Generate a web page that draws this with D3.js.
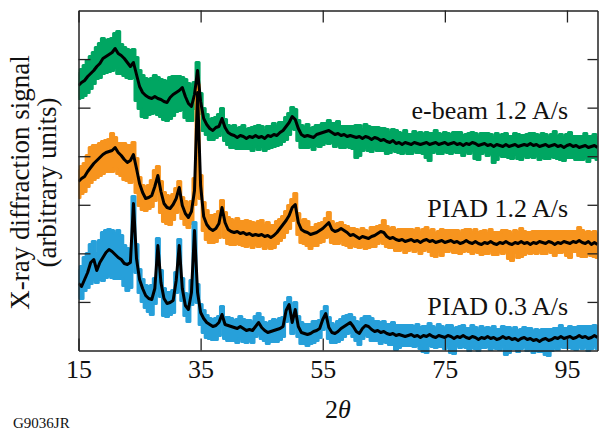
<!DOCTYPE html>
<html>
<head>
<meta charset="utf-8">
<script src="https://cdn.jsdelivr.net/npm/d3@7"></script>
<style>
  body { margin: 0; background: #fff; }
  svg { display: block; }
  text { font-family: "Liberation Serif", "Times New Roman", serif; fill: #111; }
</style>
</head>
<body>
<svg id="chart" width="600" height="431"></svg>
<script>
// Scan angle grid (degrees 2θ)
const twoTheta = [
  15, 15.5, 16, 16.5, 17, 17.5, 18, 18.5, 19, 19.5,
  20, 20.5, 21, 21.5, 22, 22.5, 23, 23.5, 24, 24.5,
  25, 25.5, 26, 26.5, 27, 27.5, 28, 28.5, 29, 29.5,
  30, 30.5, 31, 31.5, 32, 32.5, 33, 33.5, 34, 34.5,
  35, 35.5, 36, 36.5, 37, 37.5, 38, 38.5, 39, 39.5,
  40, 40.5, 41, 41.5, 42, 42.5, 43, 43.5, 44, 44.5,
  45, 45.5, 46, 46.5, 47, 47.5, 48, 48.5, 49, 49.5,
  50, 50.5, 51, 51.5, 52, 52.5, 53, 53.5, 54, 54.5,
  55, 55.5, 56, 56.5, 57, 57.5, 58, 58.5, 59, 59.5,
  60, 60.5, 61, 61.5, 62, 62.5, 63, 63.5, 64, 64.5,
  65, 65.5, 66, 66.5, 67, 67.5, 68, 68.5, 69, 69.5,
  70, 70.5, 71, 71.5, 72, 72.5, 73, 73.5, 74, 74.5,
  75, 75.5, 76, 76.5, 77, 77.5, 78, 78.5, 79, 79.5,
  80, 80.5, 81, 81.5, 82, 82.5, 83, 83.5, 84, 84.5,
  85, 85.5, 86, 86.5, 87, 87.5, 88, 88.5, 89, 89.5,
  90, 90.5, 91, 91.5, 92, 92.5, 93, 93.5, 94, 94.5,
  95, 95.5, 96, 96.5, 97, 97.5, 98, 98.5, 99, 99.5,
  100
];

// e-beam 1.2 A/s: smoothed signal and spread of the raw counts about it (arbitrary units, offset trace)
const ebeamSignal = [
  265, 268, 270, 274, 277, 280, 284, 287, 292, 294,
  296, 298, 302, 297, 295, 292, 288, 284, 288, 276,
  264, 258, 255, 253, 252, 254, 252, 251, 249, 248,
  253, 256, 258, 260, 263, 254, 247, 244, 256, 280,
  249, 232, 226, 222, 220, 223, 224, 232, 223, 218,
  216, 215, 213, 215, 214, 212, 214, 213, 215, 213,
  214, 212, 215, 214, 216, 215, 218, 220, 224, 228,
  234, 231, 222, 216, 214, 215, 214, 213, 216, 217,
  218, 219, 220, 218, 216, 217, 215, 216, 214, 215,
  214, 213, 214, 212, 214, 213, 211, 213, 212, 210,
  211, 209, 208, 210, 207, 208, 206, 208, 207, 206,
  208, 207, 206, 207, 208, 206, 207, 208, 206, 207,
  208, 206, 207, 208, 206, 207, 205, 207, 206, 208,
  207, 205, 206, 207, 205, 206, 204, 206, 205, 204,
  206, 204, 205, 206, 204, 205, 206, 205, 207, 205,
  206, 204, 205, 206, 204, 205, 206, 204, 205, 203,
  205, 206, 204, 205, 203, 204, 205, 203, 204, 205,
  203
];
const ebeamSpreadUp = [
  12, 13, 15, 16, 17, 18, 19, 20, 20, 16,
  15, 14, 15, 22, 11, 11, 13, 16, 13, 17,
  16, 17, 17, 18, 20, 21, 21, 20, 21, 21,
  20, 18, 16, 14, 10, 17, 20, 18, 12, 8,
  8, 10, 10, 9, 12, 10, 12, 10, 8, 7,
  8, 10, 9, 8, 11, 9, 8, 10, 9, 12,
  10, 8, 9, 10, 11, 9, 10, 8, 9, 9,
  9, 10, 8, 9, 9, 11, 8, 10, 9, 8,
  9, 8, 10, 9, 11, 12, 9, 8, 10, 9,
  10, 12, 11, 9, 12, 11, 12, 10, 11, 12,
  11, 12, 10, 11, 13, 10, 11, 12, 9, 10,
  11, 10, 12, 9, 10, 11, 10, 12, 11, 9,
  10, 11, 9, 10, 12, 11, 10, 9, 11, 10,
  10, 9, 11, 10, 12, 10, 9, 11, 10, 12,
  11, 10, 9, 11, 12, 10, 9, 11, 10, 12,
  10, 11, 12, 10, 9, 11, 13, 10, 11, 10,
  11, 12, 10, 9, 11, 10, 12, 11, 10, 11,
  10
];
const ebeamSpreadDown = [
  13, 15, 15, 16, 15, 13, 12, 14, 15, 16,
  17, 18, 19, 20, 18, 17, 15, 12, 15, 26,
  22, 24, 22, 17, 15, 16, 16, 17, 18, 18,
  21, 21, 19, 20, 22, 21, 17, 14, 14, 10,
  12, 12, 10, 11, 9, 10, 9, 12, 13, 12,
  13, 12, 11, 13, 12, 10, 12, 13, 11, 12,
  10, 12, 13, 11, 12, 10, 12, 11, 13, 12,
  12, 10, 12, 13, 11, 12, 10, 12, 11, 13,
  12, 11, 13, 10, 12, 11, 12, 13, 10, 12,
  12, 20, 19, 12, 11, 13, 12, 11, 12, 10,
  11, 12, 10, 9, 8, 10, 9, 8, 10, 9,
  8, 9, 8, 10, 15, 16, 9, 8, 9, 10,
  9, 8, 10, 9, 8, 9, 10, 8, 9, 8,
  15, 14, 9, 8, 10, 9, 16, 15, 9, 10,
  12, 11, 13, 10, 12, 14, 11, 12, 13, 12,
  11, 13, 12, 14, 12, 11, 13, 12, 14, 13,
  12, 13, 11, 14, 12, 13, 12, 14, 11, 12,
  12
];

// PIAD 1.2 A/s
const piadFastSignal = [
  169, 172, 174, 179, 183, 187, 190, 193, 196, 198,
  199, 200, 203, 198, 195, 191, 188, 190, 196, 182,
  167, 158, 152, 153, 155, 164, 175, 159, 147, 143,
  142, 146, 152, 163, 145, 137, 133, 139, 160, 258,
  165, 134, 126, 122, 120, 122, 127, 143, 128, 121,
  119, 118, 119, 117, 118, 116, 117, 115, 116, 115,
  116, 114, 115, 113, 115, 118, 122, 126, 130, 135,
  143, 146, 128, 121, 119, 118, 116, 117, 118, 120,
  122, 125, 128, 121, 119, 120, 122, 120, 118, 115,
  116, 114, 112, 114, 113, 112, 114, 115, 117, 119,
  118, 114, 112, 113, 111, 110, 111, 109, 110, 111,
  109, 110, 108, 110, 111, 109, 110, 108, 109, 110,
  108, 109, 110, 108, 109, 107, 108, 110, 108, 107,
  109, 107, 106, 108, 107, 109, 107, 106, 108, 107,
  109, 107, 106, 108, 107, 109, 107, 108, 106, 108,
  107, 109, 108, 107, 109, 108, 106, 108, 107, 109,
  108, 107, 109, 108, 110, 108, 107, 109, 106, 108,
  106
];
const piadFastSpreadUp = [
  11, 12, 13, 16, 20, 18, 15, 14, 13, 12,
  12, 17, 10, 9, 12, 16, 17, 15, 12, 10,
  6, 7, 8, 12, 15, 16, 9, 10, 11, 12,
  12, 10, 10, 6, 8, 12, 10, 10, 12, 8,
  10, 14, 14, 13, 15, 14, 12, 7, 10, 12,
  12, 11, 13, 12, 11, 14, 12, 13, 11, 14,
  14, 11, 13, 12, 10, 11, 9, 8, 9, 10,
  8, 11, 9, 8, 12, 11, 7, 6, 8, 7,
  6, 7, 10, 8, 6, 7, 6, 5, 6, 7,
  6, 7, 6, 8, 7, 6, 9, 8, 7, 6,
  12, 10, 9, 10, 9, 11, 10, 12, 11, 10,
  11, 12, 10, 11, 12, 10, 11, 9, 10, 11,
  12, 11, 10, 12, 11, 10, 12, 11, 13, 11,
  12, 11, 13, 12, 10, 12, 11, 12, 10, 13,
  11, 12, 10, 12, 11, 13, 12, 10, 12, 11,
  12, 10, 11, 12, 10, 11, 13, 11, 12, 10,
  11, 12, 10, 11, 13, 12, 11, 10, 12, 11,
  11
];
const piadFastSpreadDown = [
  16, 15, 15, 15, 15, 16, 17, 18, 19, 19,
  20, 21, 21, 21, 20, 20, 18, 22, 24, 24,
  22, 17, 12, 11, 11, 14, 18, 21, 18, 16,
  16, 15, 14, 16, 13, 11, 10, 12, 14, 10,
  13, 14, 15, 14, 12, 13, 14, 13, 15, 14,
  13, 12, 12, 11, 13, 12, 11, 12, 10, 11,
  11, 12, 10, 11, 12, 11, 12, 13, 12, 13,
  13, 14, 12, 13, 12, 13, 14, 12, 13, 12,
  13, 12, 14, 13, 12, 13, 12, 14, 13, 12,
  11, 10, 9, 10, 11, 9, 10, 11, 10, 9,
  11, 10, 9, 10, 11, 10, 9, 11, 10, 9,
  10, 9, 11, 10, 9, 10, 15, 14, 10, 15,
  9, 10, 9, 10, 11, 10, 9, 10, 9, 10,
  10, 9, 10, 11, 10, 9, 11, 10, 9, 10,
  10, 15, 16, 10, 14, 15, 11, 10, 9, 10,
  10, 9, 11, 10, 9, 10, 11, 10, 9, 10,
  13, 14, 10, 9, 15, 14, 13, 10, 11, 14,
  13
];

// PIAD 0.3 A/s
const piadSlowSignal = [
  67, 64, 71, 78, 88, 91, 80, 88, 93, 98,
  101, 99, 96, 93, 91, 87, 86, 88, 147, 92,
  71, 62, 55, 52, 51, 62, 105, 68, 52, 47,
  48, 50, 70, 105, 62, 45, 41, 58, 120, 58,
  38, 32, 28, 26, 24, 25, 28, 36, 26, 25,
  24, 23, 22, 24, 22, 20, 21, 20, 24, 28,
  23, 20, 18, 19, 20, 21, 22, 24, 40, 46,
  28, 41, 24, 18, 17, 16, 17, 19, 20, 22,
  31, 37, 23, 18, 17, 19, 22, 24, 26, 28,
  24, 19, 17, 22, 25, 24, 21, 19, 20, 18,
  19, 17, 16, 17, 15, 16, 15, 14, 15, 16,
  14, 15, 13, 15, 14, 16, 14, 13, 15, 14,
  13, 15, 14, 12, 14, 13, 15, 13, 12, 14,
  13, 11, 13, 12, 14, 12, 13, 11, 12, 14,
  12, 13, 11, 12, 10, 12, 13, 11, 12, 10,
  11, 9, 11, 12, 10, 11, 13, 12, 14, 12,
  13, 14, 12, 13, 15, 13, 14, 12, 13, 15,
  13
];
const piadSlowSpreadUp = [
  13, 20, 22, 19, 18, 18, 17, 22, 25, 22,
  20, 21, 21, 27, 24, 18, 16, 12, 7, 14,
  10, 9, 10, 12, 14, 10, 7, 12, 10, 11,
  10, 10, 8, 6, 10, 12, 9, 12, 8, 8,
  8, 8, 7, 6, 7, 7, 6, 8, 7, 8,
  8, 7, 9, 10, 9, 10, 9, 8, 10, 9,
  10, 8, 9, 10, 11, 9, 10, 9, 8, 7,
  9, 7, 10, 10, 9, 10, 9, 10, 9, 8,
  8, 7, 10, 9, 8, 10, 9, 10, 9, 8,
  9, 10, 11, 10, 9, 10, 11, 10, 9, 10,
  10, 9, 10, 11, 10, 9, 10, 11, 10, 9,
  10, 11, 10, 9, 10, 11, 10, 9, 11, 10,
  9, 10, 11, 10, 9, 11, 10, 9, 10, 11,
  10, 9, 11, 10, 9, 10, 11, 10, 9, 10,
  11, 10, 9, 11, 10, 9, 10, 11, 10, 9,
  10, 11, 10, 9, 11, 10, 9, 10, 11, 10,
  9, 10, 11, 10, 9, 11, 10, 12, 11, 10,
  11
];
const piadSlowSpreadDown = [
  14, 12, 11, 15, 21, 20, 12, 17, 23, 25,
  26, 26, 24, 21, 19, 22, 26, 25, 10, 14,
  13, 13, 12, 13, 15, 15, 10, 14, 17, 13,
  12, 12, 12, 14, 12, 10, 12, 12, 14, 10,
  12, 14, 15, 14, 13, 14, 13, 12, 14, 15,
  14, 13, 14, 12, 13, 12, 11, 12, 10, 11,
  11, 10, 11, 10, 11, 12, 11, 10, 11, 9,
  11, 9, 10, 11, 10, 11, 10, 11, 10, 9,
  10, 9, 11, 10, 9, 10, 11, 10, 9, 10,
  10, 9, 11, 10, 9, 10, 11, 9, 10, 11,
  10, 9, 10, 11, 14, 13, 10, 9, 10, 11,
  10, 10, 11, 16, 16, 11, 10, 10, 11, 10,
  11, 10, 16, 15, 9, 10, 11, 10, 12, 11,
  11, 11, 10, 9, 10, 11, 10, 9, 11, 10,
  16, 15, 9, 10, 11, 10, 9, 11, 10, 12,
  11, 10, 12, 16, 15, 11, 10, 11, 10, 9,
  10, 11, 10, 12, 11, 11, 10, 12, 11, 10,
  11
];

const seriesLabels = ["e-beam 1.2 A/s", "PIAD 1.2 A/s", "PIAD 0.3 A/s"];
const xTickValues = [15, 35, 55, 75, 95];

// ---- layout ----
const svg = d3.select("#chart");
const plot = { left: 78.5, right: 597.5, top: 10.5, bottom: 350.5 };

const x = d3.scaleLinear().domain([15, 100]).range([plot.left, plot.right]);
const y = d3.scaleLinear().domain([0, 340]).range([plot.bottom, plot.top]);
const yTickValues = d3.range(1, 7).map(k => k * 340 / 7);

const series = [
  { label: seriesLabels[0], color: "#00a662", signal: ebeamSignal, up: ebeamSpreadUp, down: ebeamSpreadDown, labelAt: 232 },
  { label: seriesLabels[1], color: "#f7941e", signal: piadFastSignal, up: piadFastSpreadUp, down: piadFastSpreadDown, labelAt: 134 },
  { label: seriesLabels[2], color: "#27a0da", signal: piadSlowSignal, up: piadSlowSpreadUp, down: piadSlowSpreadDown, labelAt: 35.5 }
];

svg.append("defs").append("clipPath").attr("id", "plotClip")
  .append("rect")
  .attr("x", plot.left).attr("y", 0)
  .attr("width", plot.right - plot.left).attr("height", 431);

const dataLayer = svg.append("g").attr("clip-path", "url(#plotClip)");

// raw-count bands (coloured), drawn first
series.forEach(s => {
  const band = d3.area()
    .curve(d3.curveStep)
    .x((d, i) => x(twoTheta[i]))
    .y0((d, i) => y(s.signal[i] - s.down[i]))
    .y1((d, i) => y(s.signal[i] + s.up[i]));
  dataLayer.append("path")
    .datum(s.signal)
    .attr("d", band)
    .attr("fill", s.color)
    .attr("stroke", s.color)
    .attr("stroke-width", 3)
    .attr("stroke-linejoin", "round");
});

// smoothed traces (black)
series.forEach(s => {
  const line = d3.line()
    .x((d, i) => x(twoTheta[i]))
    .y(d => y(d));
  dataLayer.append("path")
    .datum(s.signal)
    .attr("d", line)
    .attr("fill", "none")
    .attr("stroke", "#000")
    .attr("stroke-width", 3)
    .attr("stroke-linejoin", "round");
});

// ---- axes (ticks point inward on all four sides) ----
function styleAxis(g) {
  g.selectAll(".domain").attr("stroke", "#222").attr("stroke-width", 1.5);
  g.selectAll(".tick line").attr("stroke", "#222").attr("stroke-width", 1.3);
  g.attr("font-family", null).attr("font-size", null);
}

svg.append("g")
  .attr("transform", `translate(0,${plot.bottom})`)
  .call(d3.axisBottom(x).tickValues(xTickValues).tickSizeInner(-12).tickSizeOuter(0).tickPadding(9).tickFormat(d3.format("d")))
  .call(styleAxis)
  .call(g => g.selectAll(".tick text").attr("fill", "#111").style("font-size", "26px"));

svg.append("g")
  .attr("transform", `translate(0,${plot.top})`)
  .call(d3.axisTop(x).tickValues(xTickValues).tickSizeInner(-12).tickSizeOuter(0).tickFormat(""))
  .call(styleAxis);

svg.append("g")
  .attr("transform", `translate(${plot.left},0)`)
  .call(d3.axisLeft(y).tickValues(yTickValues).tickSizeInner(-12).tickSizeOuter(0).tickFormat(""))
  .call(styleAxis);

svg.append("g")
  .attr("transform", `translate(${plot.right},0)`)
  .call(d3.axisRight(y).tickValues(yTickValues).tickSizeInner(-10).tickSizeOuter(0).tickFormat(""))
  .call(styleAxis);

// ---- series labels ----
series.forEach(s => {
  svg.append("text")
    .attr("x", x(95.2))
    .attr("y", y(s.labelAt))
    .attr("text-anchor", "end")
    .style("font-size", "26px")
    .text(s.label);
});

// ---- axis titles ----
const xTitle = svg.append("text")
  .attr("x", (plot.left + plot.right) / 2)
  .attr("y", 418)
  .attr("text-anchor", "middle")
  .style("font-size", "26px");
xTitle.append("tspan").text("2");
xTitle.append("tspan").style("font-style", "italic").text("θ");

const yTitle = svg.append("g")
  .attr("transform", `translate(0,${(plot.top + plot.bottom) / 2 + 2}) rotate(-90)`);
yTitle.append("text")
  .attr("x", 0).attr("y", 29)
  .attr("text-anchor", "middle")
  .style("font-size", "27px")
  .text("X-ray diffraction signal");
yTitle.append("text")
  .attr("x", 0).attr("y", 56)
  .attr("text-anchor", "middle")
  .style("font-size", "27px")
  .text("(arbitrary units)");

svg.append("text")
  .attr("x", 13).attr("y", 428)
  .style("font-size", "15px")
  .text("G9036JR");
</script>
</body>
</html>
